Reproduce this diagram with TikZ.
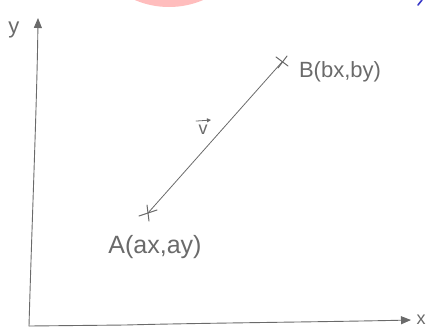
\documentclass[tikz,border=0pt]{standalone}
\usepackage{fontspec}
\setmainfont{Liberation Sans}
\usetikzlibrary{arrows.meta}
\definecolor{pencil}{HTML}{6A6A6A}
\definecolor{blush}{HTML}{FFBDBD}
\definecolor{inkblue}{HTML}{3A3AC8}
\tikzset{
  axisline/.style={draw=pencil, line width=0.9pt, -{Triangle[length=10pt,width=8pt]}},
  pencilline/.style={draw=pencil, line width=0.8pt},
  crossmark/.style={draw=pencil, line width=1pt},
  lbl/.style={text=pencil, inner sep=0pt, font=\fontsize{22}{24}\selectfont},
}
\begin{document}
\begin{tikzpicture}[x=1pt,y=-1pt, line cap=round, line join=round]
\useasboundingbox (0,0) rectangle (430,330);
\begin{scope}
  \clip (0,0) rectangle (430,330);
  \fill[blush] (169,-80) circle (87);
  \draw[inkblue, line width=1.6pt] (418,5) -- (422,0);
\end{scope}
% axes
\coordinate (O) at (29,326);
\coordinate (Ytop) at (38,18);
\coordinate (Xend) at (411,320);
\draw[axisline] (O) .. controls (32,220) and (37,100) .. (Ytop);
\draw[axisline] (O) -- (125,325) .. controls (200,323) and (320,322) .. (Xend);
\node[lbl, font=\fontsize{22}{24}\selectfont] (ylbl) at (14,30) {y};
\node[lbl, font=\fontsize{18}{20}\selectfont] (xlbl) at (421,320) {x};
% points
\coordinate (A) at (148,213);
\coordinate (B) at (282,62);
\draw[pencilline] (A) -- (B);
\draw[crossmark] ([shift={(-9,3)}]A) -- ([shift={(9,-3)}]A);
\draw[crossmark] ([shift={(-1,-8)}]A) -- ([shift={(1,8)}]A);
\draw[crossmark] ([shift={(-6,-5)}]B) -- ([shift={(6,4)}]B);
\draw[crossmark] ([shift={(5,-6)}]B) -- ([shift={(-4,6)}]B);
\node[lbl, font=\fontsize{25}{27}\selectfont] (Albl) at (155,247) {A(ax,ay)};
\node[lbl] (Blbl) at (340,72) {B(bx,by)};
\node[lbl, font=\fontsize{18}{20}\selectfont] (vlbl) at (203,130) {v};
\draw[pencilline, -{Triangle[length=4pt,width=4pt]}] ([shift={(-7,-4)}]vlbl.north) -- ([shift={(8,-5)}]vlbl.north);
\end{tikzpicture}
\end{document}
